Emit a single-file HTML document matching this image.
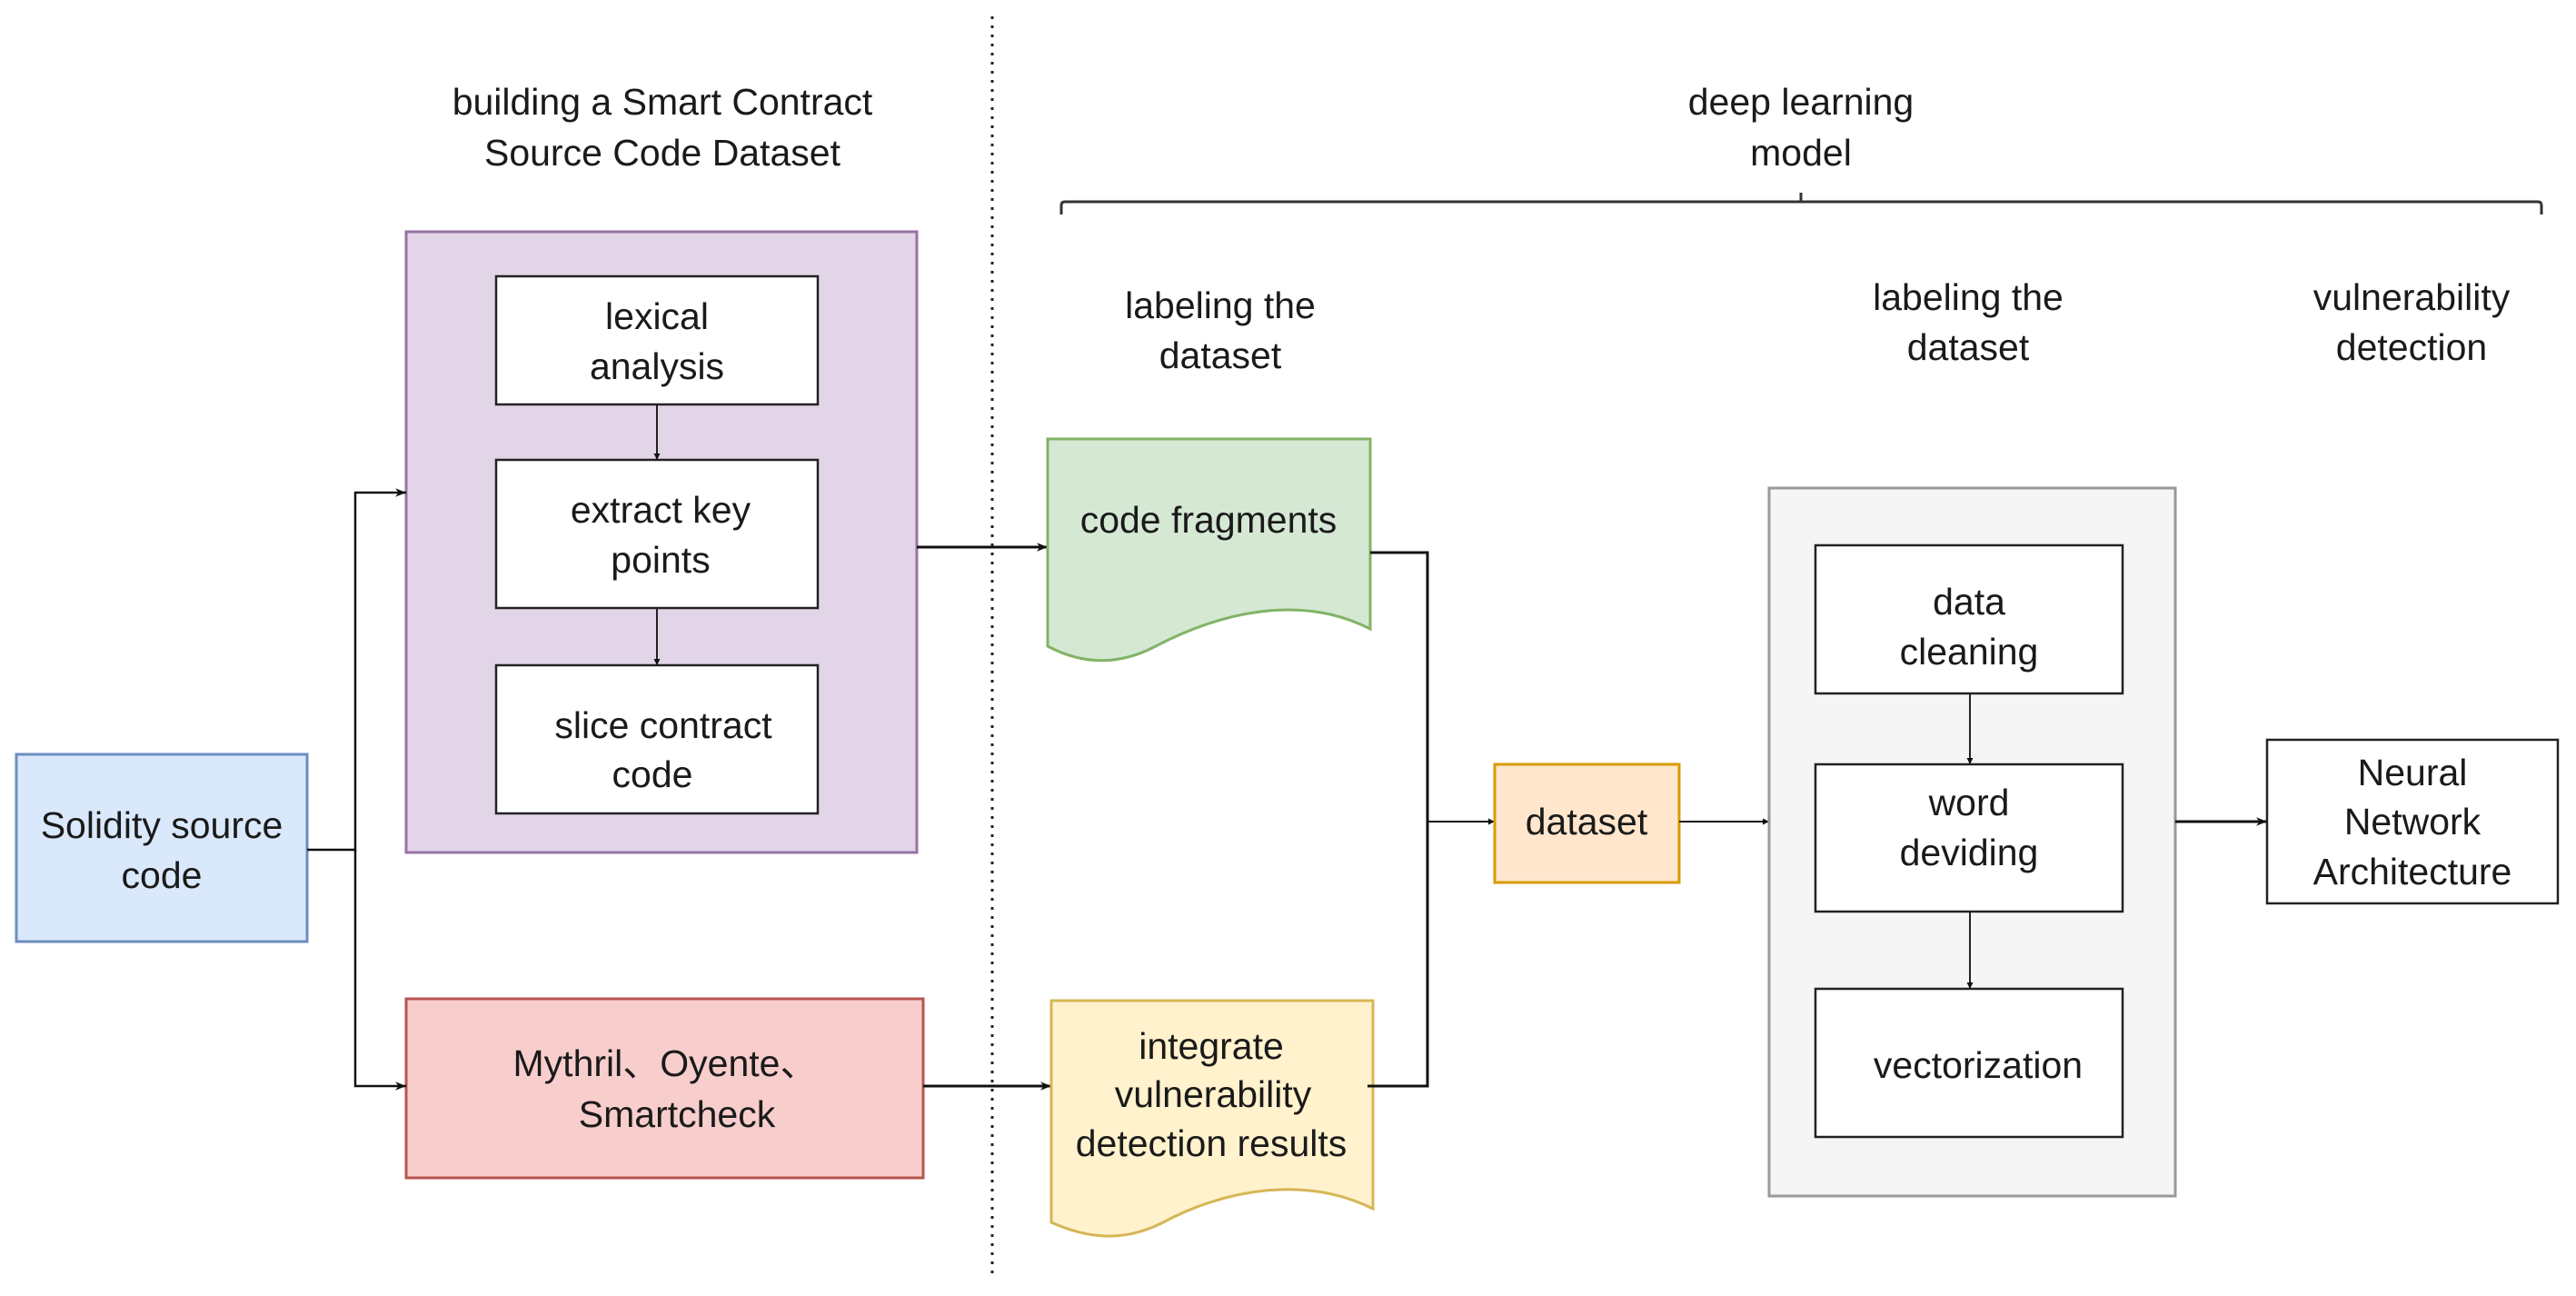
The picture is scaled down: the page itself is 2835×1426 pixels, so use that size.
<!DOCTYPE html>
<html><head><meta charset="utf-8"><style>
html,body{margin:0;padding:0;background:#fff}
svg{display:block}
text{font-family:"Liberation Sans",Arial,sans-serif;font-size:41px;fill:#1a1a1a;text-anchor:middle}
</style></head><body>
<svg width="2835" height="1426" viewBox="0 0 2835 1426" xmlns="http://www.w3.org/2000/svg">
<defs>
<marker id="a" viewBox="0 0 10 10" refX="10" refY="5" markerWidth="7" markerHeight="7" orient="auto" markerUnits="userSpaceOnUse">
<path d="M0,0 L10,5 L0,10 z" fill="#111"/></marker>
<marker id="b" viewBox="0 0 10 10" refX="10" refY="5" markerWidth="14" markerHeight="12" orient="auto" markerUnits="userSpaceOnUse">
<path d="M0,1 L10,5 L0,9 L3,5 z" fill="#111"/></marker>
</defs>

<!-- dotted divider -->
<line x1="1092" y1="18" x2="1092" y2="1407" stroke="#222" stroke-width="3" stroke-dasharray="3,7"/>

<!-- headings -->
<text x="729" y="126">building a Smart Contract</text>
<text x="729" y="182">Source Code Dataset</text>
<text x="1982" y="126">deep learning</text>
<text x="1982" y="182">model</text>
<text x="1343" y="350">labeling the</text>
<text x="1343" y="405">dataset</text>
<text x="2166" y="341">labeling the</text>
<text x="2166" y="396">dataset</text>
<text x="2654" y="341">vulnerability</text>
<text x="2654" y="396">detection</text>

<!-- brace -->
<path d="M1168,236 V226 Q1168,222 1172,222 H2793 Q2797,222 2797,226 V236 M1982,222 V212" fill="none" stroke="#333" stroke-width="3"/>

<!-- Solidity -->
<rect x="18" y="830" width="320" height="206" fill="#dae8fc" stroke="#6c8ebf" stroke-width="3"/>
<text x="178" y="922">Solidity source</text>
<text x="178" y="977">code</text>

<!-- purple group -->
<rect x="447" y="255" width="562" height="683" fill="#e1d5e7" stroke="#9673a6" stroke-width="3"/>
<rect x="546" y="304" width="354" height="141" fill="#fff" stroke="#222" stroke-width="2.5"/>
<text x="723" y="362">lexical</text>
<text x="723" y="417">analysis</text>
<rect x="546" y="506" width="354" height="163" fill="#fff" stroke="#222" stroke-width="2.5"/>
<text x="727" y="575">extract key</text>
<text x="727" y="630">points</text>
<rect x="546" y="732" width="354" height="163" fill="#fff" stroke="#222" stroke-width="2.5"/>
<text x="730" y="812">slice contract</text>
<text x="718" y="866">code</text>
<line x1="723" y1="445" x2="723" y2="506" stroke="#222" stroke-width="2" marker-end="url(#a)"/>
<line x1="723" y1="669" x2="723" y2="732" stroke="#222" stroke-width="2" marker-end="url(#a)"/>

<!-- Mythril -->
<rect x="447" y="1099" width="569" height="197" fill="#f8cecc" stroke="#b85450" stroke-width="3"/>
<text x="732" y="1184">Mythril、Oyente、</text>
<text x="745" y="1240">Smartcheck</text>

<!-- split connector -->
<path d="M338,935 H391 V542 H447" fill="none" stroke="#111" stroke-width="2.5" marker-end="url(#b)"/>
<path d="M391,935 V1195 H447" fill="none" stroke="#111" stroke-width="2.5" marker-end="url(#b)"/>

<!-- to docs -->
<line x1="1009" y1="602" x2="1153" y2="602" stroke="#111" stroke-width="3" marker-end="url(#b)"/>
<line x1="1016" y1="1195" x2="1157" y2="1195" stroke="#111" stroke-width="3" marker-end="url(#b)"/>

<!-- code fragments doc -->
<path d="M1153,483 H1508 V692 C1430,652 1340,675 1270,712 C1225,735 1185,728 1153,711 Z" fill="#d5e8d4" stroke="#82b366" stroke-width="3"/>
<text x="1330" y="586">code fragments</text>

<!-- integrate doc -->
<path d="M1157,1101 H1511 V1330 C1435,1292 1345,1310 1280,1345 C1235,1368 1195,1362 1157,1345 Z" fill="#fff2cc" stroke="#d6b656" stroke-width="3"/>
<text x="1333" y="1165">integrate</text>
<text x="1335" y="1218">vulnerability</text>
<text x="1333" y="1272">detection results</text>

<!-- merge -->
<path d="M1508,608 H1571 V1195 H1505" fill="none" stroke="#111" stroke-width="3"/>
<line x1="1571" y1="904" x2="1645" y2="904" stroke="#111" stroke-width="2" marker-end="url(#a)"/>

<!-- dataset -->
<rect x="1645" y="841" width="203" height="130" fill="#ffe6cc" stroke="#d79b00" stroke-width="3"/>
<text x="1746" y="918">dataset</text>
<line x1="1848" y1="904" x2="1947" y2="904" stroke="#111" stroke-width="2" marker-end="url(#a)"/>

<!-- grey group -->
<rect x="1947" y="537" width="447" height="779" fill="#f5f5f5" stroke="#999" stroke-width="3"/>
<rect x="1998" y="600" width="338" height="163" fill="#fff" stroke="#222" stroke-width="2.5"/>
<text x="2167" y="676">data</text>
<text x="2167" y="731">cleaning</text>
<rect x="1998" y="841" width="338" height="162" fill="#fff" stroke="#222" stroke-width="2.5"/>
<text x="2167" y="897">word</text>
<text x="2167" y="952">deviding</text>
<rect x="1998" y="1088" width="338" height="163" fill="#fff" stroke="#222" stroke-width="2.5"/>
<text x="2177" y="1186">vectorization</text>
<line x1="2168" y1="763" x2="2168" y2="841" stroke="#222" stroke-width="2" marker-end="url(#a)"/>
<line x1="2168" y1="1003" x2="2168" y2="1088" stroke="#222" stroke-width="2" marker-end="url(#a)"/>

<line x1="2394" y1="904" x2="2495" y2="904" stroke="#111" stroke-width="3" marker-end="url(#b)"/>

<!-- Neural -->
<rect x="2495" y="814" width="320" height="180" fill="#fff" stroke="#222" stroke-width="2.5"/>
<text x="2655" y="864">Neural</text>
<text x="2655" y="918">Network</text>
<text x="2655" y="973">Architecture</text>
</svg>
</body></html>
